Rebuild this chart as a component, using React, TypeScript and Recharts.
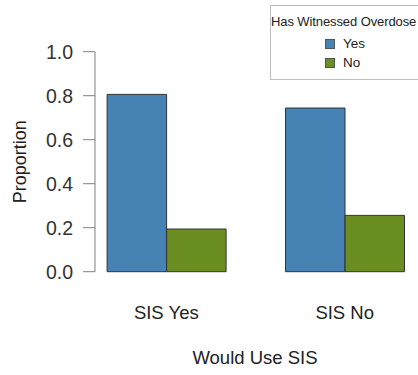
import React from 'react';
import { BarChart, Bar, XAxis, YAxis } from 'recharts';

const categories = ['SIS Yes', 'SIS No'];
const witnessedYes = [0.806, 0.744];
const witnessedNo = [0.194, 0.256];
const yTicks = [0, 0.2, 0.4, 0.6, 0.8, 1.0];
const seriesNames = ['Yes', 'No'];
const seriesColors = ['#4682B4', '#6B8E23'];

const data = categories.map((c, i) => ({ cat: c, yes: witnessedYes[i], no: witnessedNo[i] }));

const FONT = 'Liberation Sans, Arial, sans-serif';

const LegendBox = () => (
  <div
    style={{
      position: 'absolute',
      left: 270,
      top: 5,
      width: 160,
      height: 75,
      border: '1px solid #bdbdbd',
      background: '#fff',
      fontFamily: FONT,
      color: '#222',
      boxSizing: 'border-box',
    }}
  >
    <div style={{ fontSize: 13, lineHeight: '15px', marginTop: 7.5, marginLeft: 0, whiteSpace: 'nowrap', letterSpacing: -0.1 }}>
      Has Witnessed Overdose
    </div>
    {seriesNames.map((n, i) => (
      <div key={n} style={{ display: 'flex', alignItems: 'center', marginLeft: 54, height: 18.5, marginTop: i === 0 ? 6.25 : 0 }}>
        <div style={{ width: 10, height: 10, background: seriesColors[i], border: '1px solid #555', boxSizing: 'border-box' }} />
        <span style={{ fontSize: 13.5, lineHeight: '16px', marginLeft: 8 }}>{n}</span>
      </div>
    ))}
  </div>
);

export default function App() {
  return (
    <div style={{ position: 'absolute', left: 0, top: 0, width: 418, height: 375, background: '#fff', overflow: 'hidden' }}>
      <BarChart
        width={418}
        height={375}
        data={data}
        margin={{ top: 51.7, right: 0, bottom: 0, left: 0 }}
        barGap={0}
        style={{ fontFamily: FONT }}
      >
        <YAxis
          width={95}
          domain={[0, 1]}
          ticks={yTicks}
          tickFormatter={(v: number) => v.toFixed(1)}
          tickSize={12}
          tickMargin={10}
          stroke="#808080"
          tick={{ fill: '#333', fontSize: 19.5, fontFamily: FONT }}
          label={{
            content: () => (
              <text x={20} y={161.7} transform="rotate(-90 20 161.7)" textAnchor="middle" dominantBaseline="central" fill="#222" fontSize={18} fontFamily={FONT}>
                Proportion
              </text>
            ),
          }}
        />
        <XAxis
          dataKey="cat"
          height={103.3}
          axisLine={false}
          tickLine={false}
          padding={{ left: -17.9, right: -15.9 }}
          tick={(p: any) => (
            <text x={p.x} y={312} textAnchor="middle" dominantBaseline="central" fill="#222" fontSize={18.5} fontFamily={FONT}>
              {p.payload.value}
            </text>
          )}
          label={{
            content: () => (
              <text x={255} y={357} textAnchor="middle" dominantBaseline="central" fill="#222" fontSize={18.5} fontFamily={FONT}>
                Would Use SIS
              </text>
            ),
          }}
        />
        <Bar dataKey="yes" name="Yes" fill={seriesColors[0]} stroke="#333" strokeWidth={1} barSize={59.5} isAnimationActive={false} />
        <Bar dataKey="no" name="No" fill={seriesColors[1]} stroke="#333" strokeWidth={1} barSize={59.5} isAnimationActive={false} />
      </BarChart>
      <LegendBox />
    </div>
  );
}
